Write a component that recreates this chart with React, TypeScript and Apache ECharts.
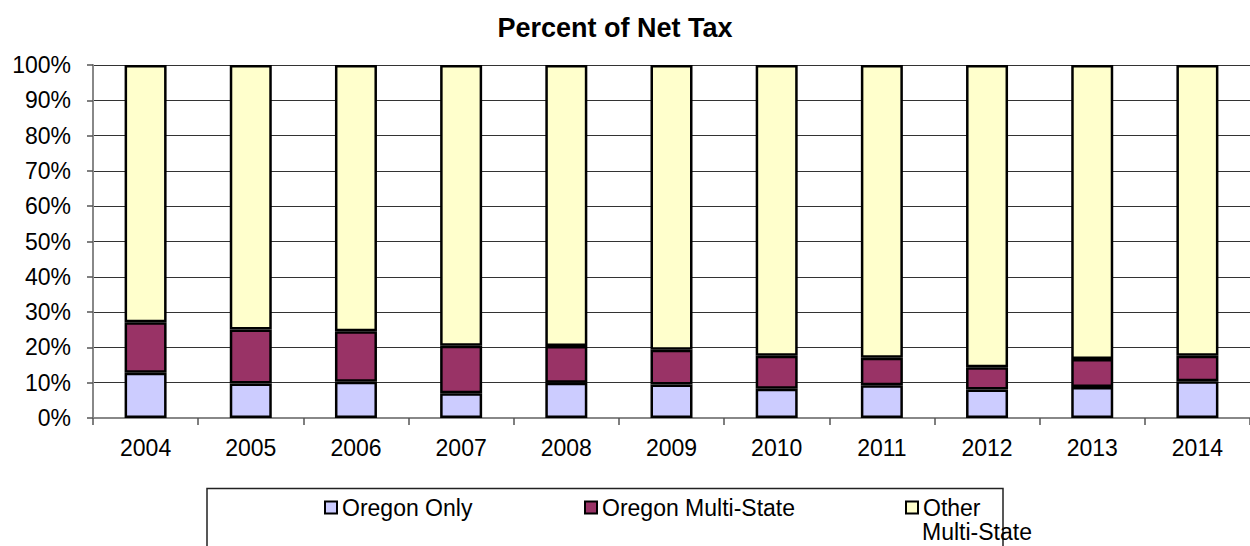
import React, { useEffect, useRef } from "react";
import * as echarts from "echarts";

const years = ["2004", "2005", "2006", "2007", "2008", "2009", "2010", "2011", "2012", "2013", "2014"];
const oregonOnly = [12.8, 9.8, 10.3, 7.0, 10.0, 9.5, 8.3, 9.3, 8.1, 8.8, 10.4];
const oregonMulti = [14.3, 15.3, 14.3, 13.5, 10.4, 9.8, 9.3, 7.8, 6.3, 7.9, 7.2];
const otherMulti = [72.9, 74.9, 75.4, 79.5, 79.6, 80.7, 82.4, 82.9, 85.6, 83.3, 82.4];
const seriesNames = ["Oregon Only", "Oregon Multi-State", "Other Multi-State"];
const seriesColors = ["#CCCCFF", "#993366", "#FFFFCC"];

const FONT = "Liberation Sans, Arial, sans-serif";

export default function App() {
  const ref = useRef<HTMLDivElement>(null);
  useEffect(() => {
    if (!ref.current) return;
    const chart = echarts.init(ref.current, undefined, { renderer: "svg" });
    const data = [oregonOnly, oregonMulti, otherMulti];
    const legendX = [324, 584, 905];
    chart.setOption({
      animation: false,
      backgroundColor: "#ffffff",
      title: {
        text: "Percent of Net Tax",
        left: 610,
        top: 9,
        textAlign: "center",
        textStyle: { fontFamily: FONT, fontWeight: "bold", fontSize: 27, color: "#000" },
      },
      grid: { left: 93, right: 0, top: 65, bottom: 128, containLabel: false },
      graphic: [
        {
          type: "rect",
          shape: { x: 207, y: 488.5, width: 796, height: 80 },
          style: { fill: "#fff", stroke: "#222", lineWidth: 1.5 },
          z: -1,
        },
        {
          type: "text",
          left: 922,
          top: 520,
          style: { text: "Multi-State", font: `23px ${FONT}`, fill: "#000" },
        },
      ],
      legend: seriesNames.map((n, i) => ({
        data: [n],
        left: legendX[i],
        top: 496,
        itemWidth: 12,
        itemHeight: 12,
        itemGap: 0,
        padding: 0,
        icon: "rect",
        textStyle: { fontFamily: FONT, fontSize: 23, color: "#000" },
        formatter: (name: string) => (name === "Other Multi-State" ? "Other" : name),
        itemStyle: { borderColor: "#000", borderWidth: 2 },
      })),
      xAxis: {
        type: "category",
        data: years,
        axisLine: { show: true, lineStyle: { color: "#888", width: 2 } },
        axisTick: { show: true, length: 7, alignWithLabel: false, lineStyle: { color: "#555", width: 1.5 } },
        axisLabel: { fontFamily: FONT, fontSize: 23, color: "#000", margin: 18 },
        splitLine: { show: false },
      },
      yAxis: {
        type: "value",
        min: 0,
        max: 100,
        interval: 10,
        axisLine: { show: true, lineStyle: { color: "#888", width: 2 } },
        axisTick: { show: true, length: 6, lineStyle: { color: "#555", width: 1.5 } },
        axisLabel: { fontFamily: FONT, fontSize: 23, color: "#000", margin: 22, formatter: "{value}%" },
        splitLine: { show: true, lineStyle: { color: "#333", width: 1.2 } },
      },
      series: seriesNames.map((n, i) => ({
        name: n,
        type: "bar",
        stack: "total",
        barWidth: 42,
        data: data[i],
        itemStyle: { color: seriesColors[i], borderColor: "#000", borderWidth: 2.5 },
      })),
    });
    return () => chart.dispose();
  }, []);
  return <div ref={ref} style={{ width: 1250, height: 546, position: "absolute", left: 0, top: 0 }} />;
}
